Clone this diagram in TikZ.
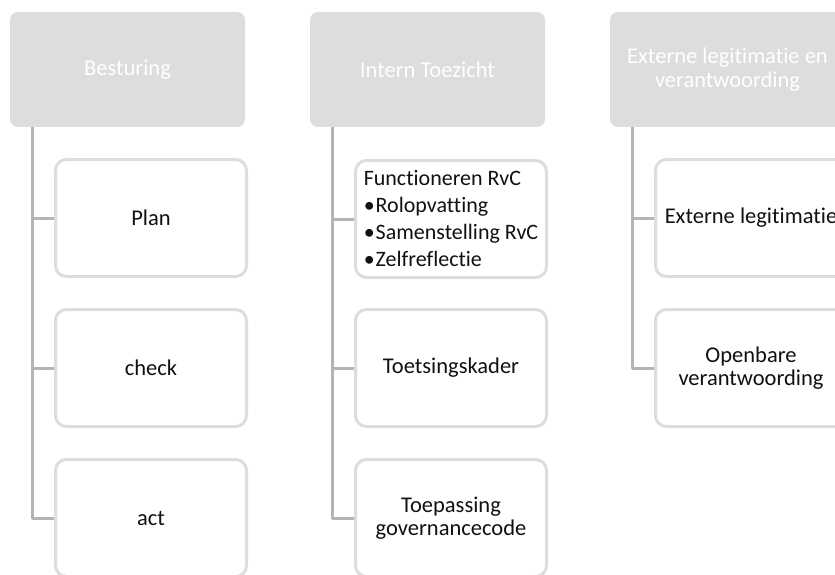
\documentclass[tikz,border=0pt]{standalone}
\usepackage{fontspec}
\setmainfont{Carlito}[Ligatures=NoCommon]
\definecolor{boxgray}{HTML}{DDDDDD}
\definecolor{linegray}{HTML}{B4B4B4}
\definecolor{inkblack}{HTML}{111111}
\begin{document}
\begin{tikzpicture}[x=1pt,y=-1pt,
  hdr/.style={fill=boxgray, rounded corners=8pt, minimum width=235pt,
    minimum height=115pt, text=white, align=center, inner sep=0pt,
    font=\fontsize{22.5}{23.5}\selectfont},
  kid/.style={draw=boxgray, line width=3pt, fill=white, rounded corners=11pt,
    minimum width=191pt, minimum height=117pt, align=center, inner sep=0pt,
    text=inkblack, font=\fontsize{22.5}{23.5}\selectfont},
  conn/.style={draw=linegray, line width=3pt, line join=round}]
\useasboundingbox (0,0) rectangle (835,575);
\clip (0,0) rectangle (835,575);

% column headers
\node[hdr] (h1) at (127.5,69.5) {Besturing};
\node[hdr] (h2) at (427.5,69.5) {Intern Toezicht};
\node[hdr] (h3) at (727.5,69.5) {Externe legitimatie en\\verantwoording};

% trunk start points below each header
\coordinate (t1) at (32,127);
\coordinate (t2) at (332,127);
\coordinate (t3) at (632,127);

% column 1
\node[kid] (a1) at (151,218) {Plan};
\node[kid] (a2) at (151,368) {check};
\node[kid] (a3) at (151,518) {act};

% column 2
\node[kid, align=left, font=\fontsize{22}{27}\selectfont] (b1) at (451,219)
  {Functioneren RvC\\
   •\kern1pt Rolopvatting\\
   •\kern1pt Samenstelling RvC\\
   •\kern1pt Zelfreflectie};
\node[kid] (b2) at (451,368) {Toetsingskader};
\node[kid] (b3) at (451,518) {Toepassing\\governancecode};

% column 3
\node[kid] (c1) at (751,218) {Externe legitimatie};
\node[kid] (c2) at (751,368) {Openbare\\verantwoording};

% connectors
\draw[conn] (t1) |- (a3.west);
\draw[conn] (t1 |- a1.west) -- (a1.west);
\draw[conn] (t1 |- a2.west) -- (a2.west);

\draw[conn] (t2) |- (b3.west);
\draw[conn] (t2 |- b1.west) -- (b1.west);
\draw[conn] (t2 |- b2.west) -- (b2.west);

\draw[conn] (t3) |- (c2.west);
\draw[conn] (t3 |- c1.west) -- (c1.west);
\end{tikzpicture}
\end{document}
